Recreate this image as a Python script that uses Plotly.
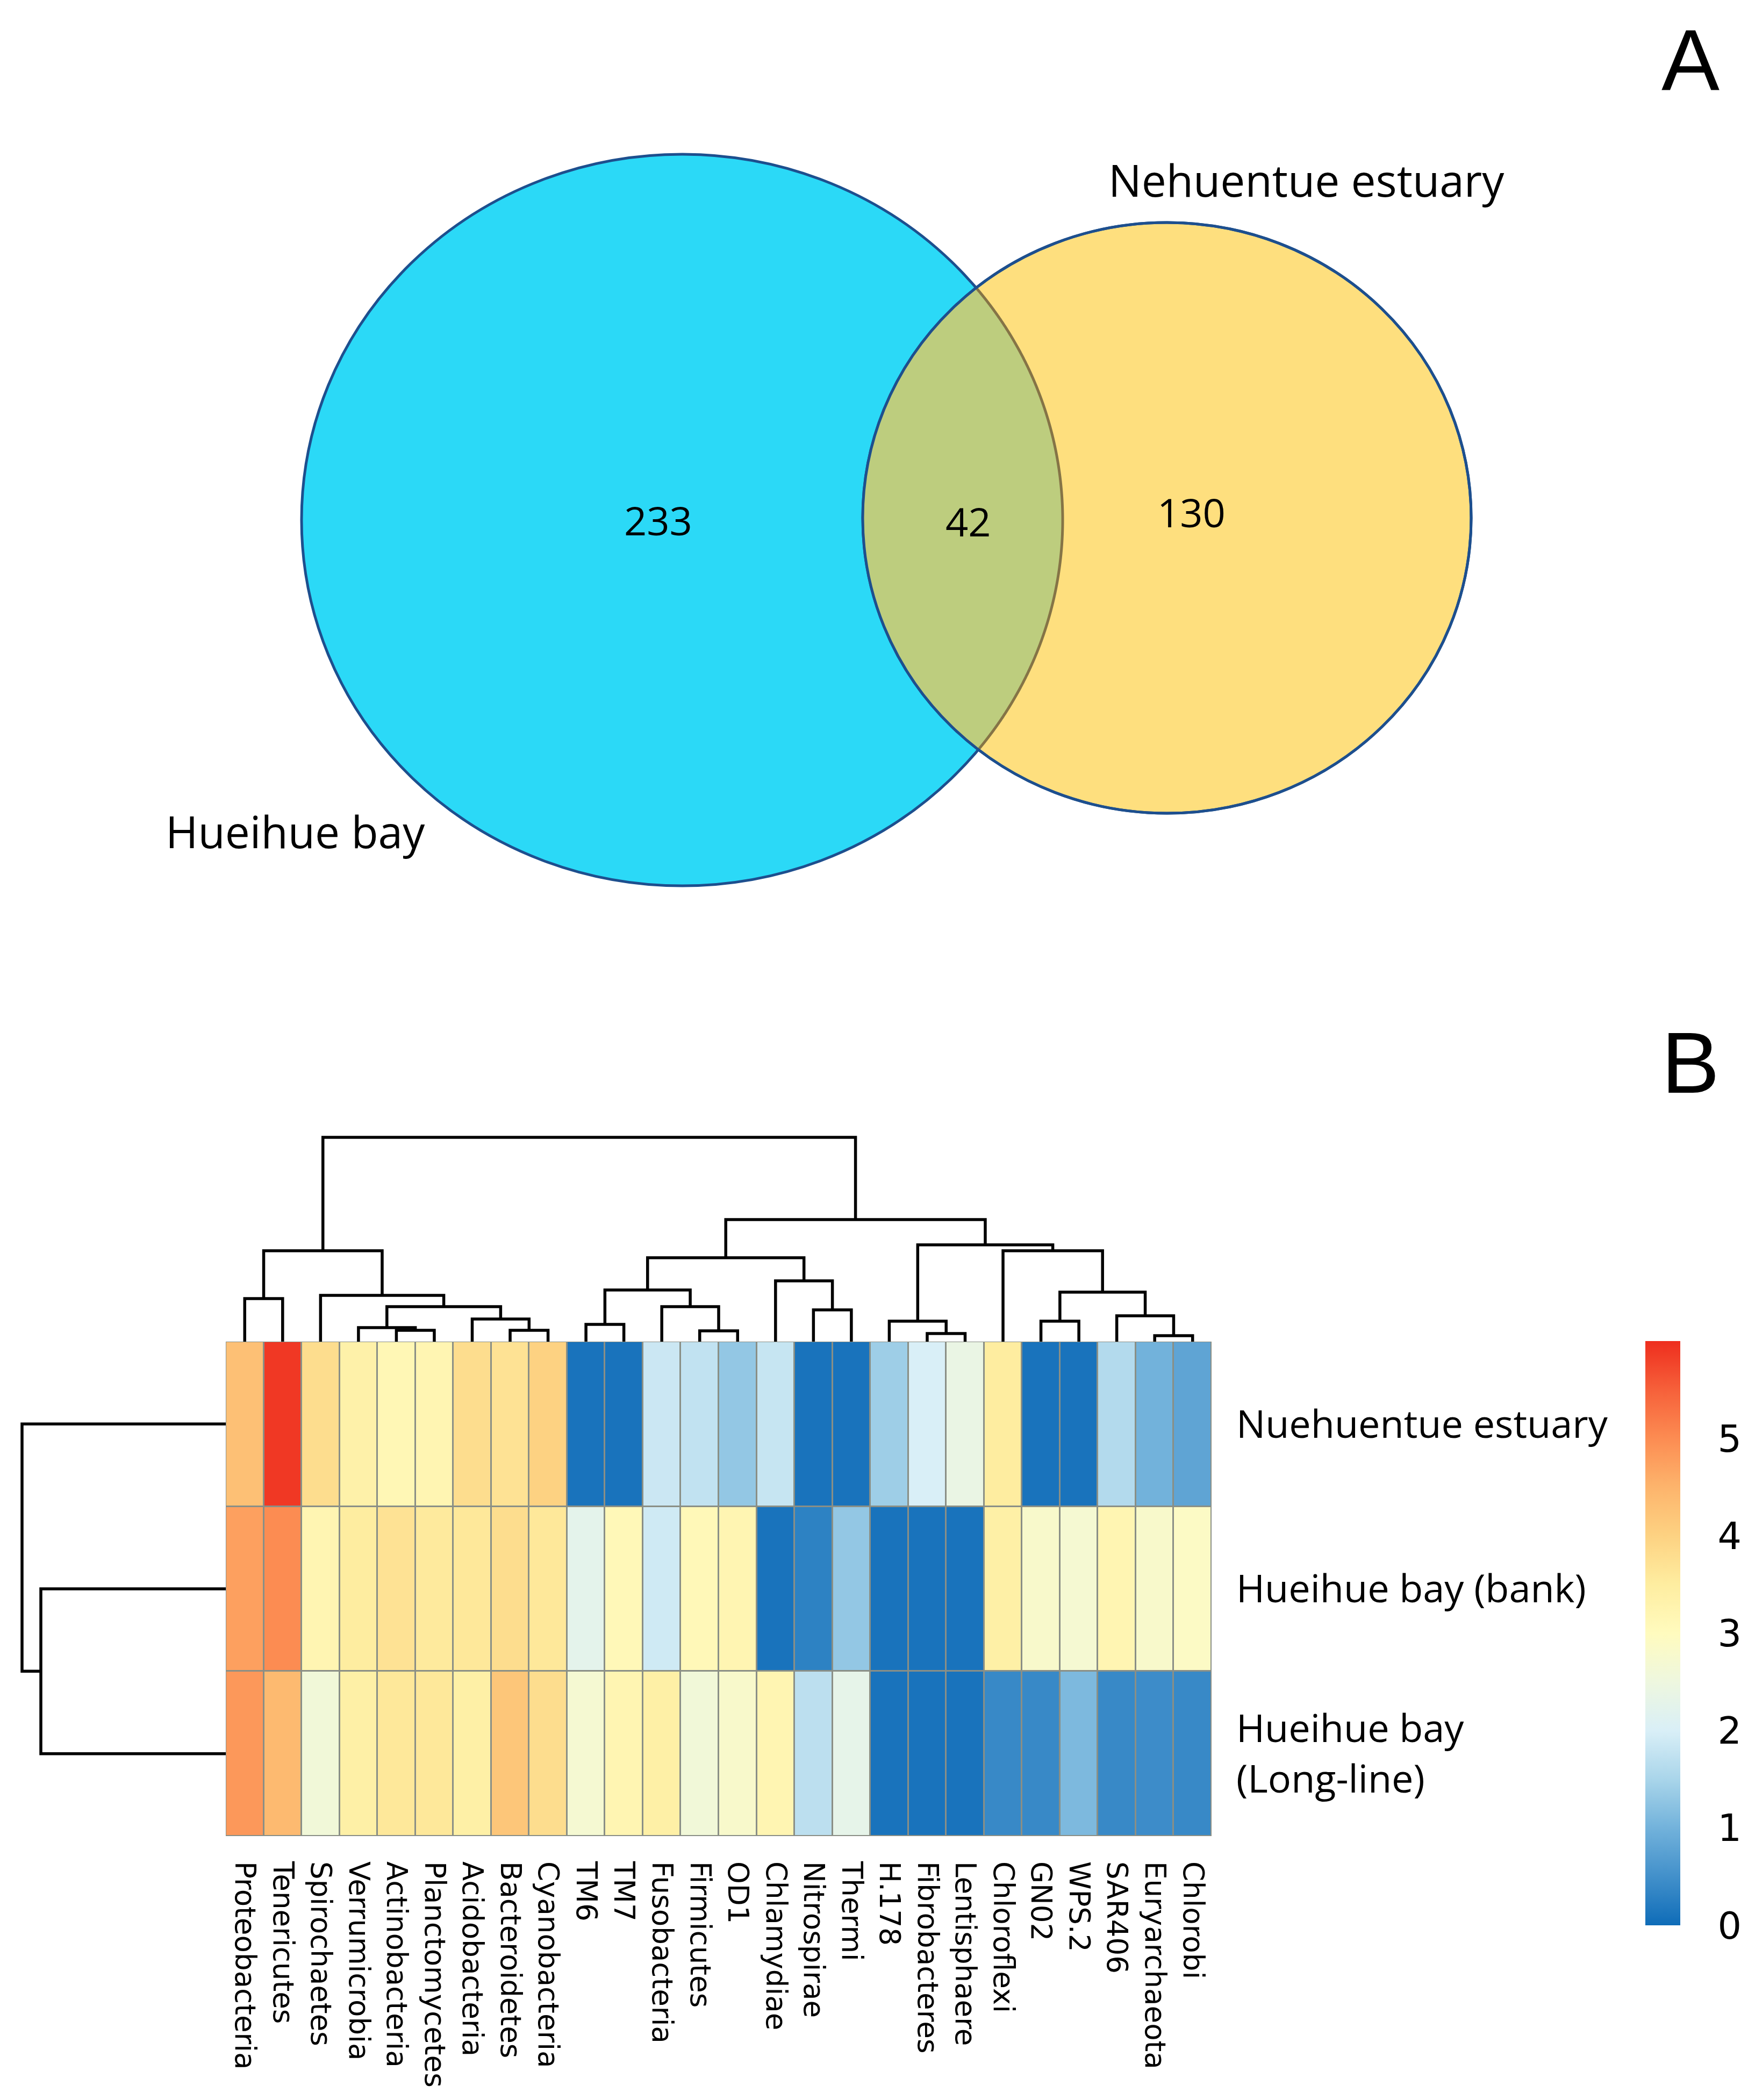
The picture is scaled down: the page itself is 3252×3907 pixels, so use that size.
import numpy as np
import plotly.graph_objects as go

W, H = 3252, 3907

# ---------------- Panel A: Venn data ----------------
venn_left_label = "Hueihue bay"
venn_right_label = "Nehuentue estuary"
venn_only_left = 233
venn_shared = 42
venn_only_right = 130

# ---------------- Panel B: heatmap data ----------------
phyla = ["Proteobacteria", "Tenericutes", "Spirochaetes", "Verrumicrobia", "Actinobacteria",
         "Planctomycetes", "Acidobacteria", "Bacteroidetes", "Cyanobacteria", "TM6", "TM7",
         "Fusobacteria", "Firmicutes", "OD1", "Chlamydiae", "Nitrospirae", "Thermi", "H.178",
         "Fibrobacteres", "Lentisphaere", "Chloroflexi", "GN02", "WPS.2", "SAR406",
         "Euryarchaeota", "Chlorobi"]
samples = ["Nuehuentue estuary", "Hueihue bay (bank)", "Hueihue bay<br>(Long-line)"]

abund_nuehuentue = [4.3, 5.9, 3.8, 3.35, 3.15, 3.2, 3.8, 3.7, 4.0, 0.1, 0.1, 1.85, 1.75, 1.3,
                    1.8, 0.1, 0.1, 1.4, 2.0, 2.4, 3.5, 0.1, 0.1, 1.6, 1.0, 0.8]
abund_bank = [4.75, 5.0, 3.2, 3.5, 3.7, 3.55, 3.6, 3.8, 3.6, 2.25, 3.1, 1.9, 3.1, 3.2,
              0.1, 0.3, 1.3, 0.1, 0.1, 0.1, 3.4, 2.8, 2.7, 3.2, 2.8, 2.9]
abund_longline = [4.85, 4.4, 2.6, 3.4, 3.6, 3.6, 3.4, 4.2, 3.8, 2.7, 3.2, 3.4, 2.6, 2.8,
                  3.2, 1.7, 2.3, 0.1, 0.1, 0.1, 0.4, 0.4, 1.1, 0.4, 0.45, 0.4]

# column dendrogram linkage: (child a, child b, height); leaves 0..25, new nodes 26..
col_linkage = [
    (24, 25, 11), (18, 19, 15), (12, 13, 20), (4, 5, 21), (7, 8, 21),
    (3, 29, 26), (9, 10, 32), (17, 27, 38), (21, 22, 38), (6, 30, 42),
    (23, 26, 48), (15, 16, 59), (31, 35, 65), (11, 28, 65), (0, 1, 80),
    (2, 38, 86), (34, 36, 92), (32, 39, 96), (14, 37, 113), (40, 41, 169),
    (20, 42, 169), (43, 44, 156), (33, 46, 180), (47, 48, 227), (45, 49, 380),
]
# row dendrogram linkage
row_linkage = [(1, 2, 344), (0, 3, 379)]

cbar_ticks = [0, 1, 2, 3, 4, 5]
z_min, z_max = 0.0, 6.0

colorscale = [
    [0.0 / 6, "#0E6CB8"], [0.4 / 6, "#3889C7"], [1.0 / 6, "#72B2DB"], [1.5 / 6, "#A9D5EA"],
    [2.0 / 6, "#D9EFF7"], [2.5 / 6, "#EEF7DF"], [3.0 / 6, "#FFFBBE"], [3.5 / 6, "#FEEDA0"],
    [4.0 / 6, "#FDD282"], [4.5 / 6, "#FDB46C"], [5.0 / 6, "#FC8C52"], [5.5 / 6, "#F6603A"],
    [6.0 / 6, "#EE2E1E"],
]


def px(xp):
    return xp / W


def py(yp):
    return 1 - yp / H


def dendro_segments(n_leaves, linkage):
    pos = {i: float(i) for i in range(n_leaves)}
    hgt = {i: 0.0 for i in range(n_leaves)}
    xs, ys = [], []
    for k, (a, b, h) in enumerate(linkage):
        node = n_leaves + k
        xs += [pos[a], pos[a], pos[b], pos[b], None]
        ys += [hgt[a], h, h, hgt[b], None]
        pos[node] = (pos[a] + pos[b]) / 2
        hgt[node] = h
    return xs, ys


fig = go.Figure()

# heatmap
n_cols = len(phyla)
fig.add_trace(go.Heatmap(
    z=[abund_nuehuentue, abund_bank, abund_longline],
    x=list(range(n_cols)), y=list(range(len(samples))),
    colorscale=colorscale, zmin=z_min, zmax=z_max,
    xgap=3, ygap=3, xaxis="x", yaxis="y",
    colorbar=dict(
        thickness=65, thicknessmode="pixels", len=1087, lenmode="pixels",
        x=px(3053), xanchor="left", xpad=0, y=py(2487), yanchor="top", ypad=0,
        outlinewidth=0, tickvals=cbar_ticks, ticks="outside", ticklen=56,
        tickcolor="rgba(0,0,0,0)",
        tickfont=dict(family="DejaVu Sans", size=70, color="black"),
    ),
))

# column dendrogram
cx, cy = dendro_segments(n_cols, col_linkage)
fig.add_trace(go.Scatter(x=cx, y=cy, mode="lines", xaxis="x2", yaxis="y2",
                         line=dict(color="black", width=5.5), hoverinfo="skip"))
# row dendrogram
rx, ry = dendro_segments(len(samples), row_linkage)
fig.add_trace(go.Scatter(x=ry, y=rx, mode="lines", xaxis="x3", yaxis="y3",
                         line=dict(color="black", width=5.5), hoverinfo="skip"))

hm_x0, hm_x1, hm_y0, hm_y1 = 412, 2246, 2488, 3408

shapes = []
# grey cell borders behind heatmap
shapes.append(dict(type="rect", xref="x", yref="y", x0=-0.5, x1=n_cols - 0.5,
                   y0=-0.5, y1=len(samples) - 0.5, fillcolor="#8A8F86",
                   line=dict(width=0), layer="below"))

# ---------------- Venn geometry ----------------
e1 = dict(x0=553, x1=1969, y0=279, y1=1640)
e2 = dict(x0=1597, x1=2729, y0=406, y1=1505)
c_blue = "#2BD9F7"
c_yel = "#FEDF7E"
c_lens = "#BDCD7E"
c_edge = "#1D4F8E"
c_arc = "#857446"


def ell_params(e):
    return ((e["x0"] + e["x1"]) / 2, (e["y0"] + e["y1"]) / 2,
            (e["x1"] - e["x0"]) / 2, (e["y1"] - e["y0"]) / 2)


def ell_shape(e, fill, line_color):
    return dict(type="circle", xref="paper", yref="paper",
                x0=px(e["x0"]), x1=px(e["x1"]), y0=py(e["y1"]), y1=py(e["y0"]),
                fillcolor=fill, line=dict(color=line_color, width=5), layer="above")


cx1, cy1, ax1, ay1 = ell_params(e1)
cx2, cy2, ax2, ay2 = ell_params(e2)
t2 = np.linspace(0, 2 * np.pi, 3000)
x2p = cx2 + ax2 * np.cos(t2)
y2p = cy2 + ay2 * np.sin(t2)
in1 = ((x2p - cx1) / ax1) ** 2 + ((y2p - cy1) / ay1) ** 2 <= 1
t1 = np.linspace(-np.pi, np.pi, 3000)
x1p = cx1 + ax1 * np.cos(t1)
y1p = cy1 + ay1 * np.sin(t1)
in2 = ((x1p - cx2) / ax2) ** 2 + ((y1p - cy2) / ay2) ** 2 <= 1

arcA = list(zip(x2p[in1], y2p[in1]))
arcB = list(zip(x1p[in2], y1p[in2]))


def to_path(pts, close):
    s = "M " + " L ".join(f"{px(a):.6f},{py(b):.6f}" for a, b in pts)
    return s + (" Z" if close else "")


shapes.append(ell_shape(e1, c_blue, c_edge))
shapes.append(ell_shape(e2, c_yel, c_edge))
shapes.append(dict(type="path", xref="paper", yref="paper", path=to_path(arcA + arcB, True),
                   fillcolor=c_lens, line=dict(width=0), layer="above"))
shapes.append(dict(type="path", xref="paper", yref="paper", path=to_path(arcB, False),
                   fillcolor="rgba(0,0,0,0)", line=dict(color=c_arc, width=5), layer="above"))
shapes.append(ell_shape(e2, "rgba(0,0,0,0)", c_edge))

annotations = []


def add_text(text, x, y, size, family="Open Sans"):
    annotations.append(dict(text=text, x=px(x), y=py(y), xref="paper", yref="paper",
                            showarrow=False, xanchor="center", yanchor="middle",
                            font=dict(family=family, size=size, color="black")))


add_text(str(venn_only_left), 1216, 959, 74)
add_text(str(venn_shared), 1793, 962, 74)
add_text(str(venn_only_right), 2208, 944, 74)
add_text(venn_right_label, 2422, 326, 82)
add_text(venn_left_label, 541, 1538, 82)
add_text("A", 3137, 104, 162, "Liberation Sans")
add_text("B", 3137, 1968, 162, "Liberation Sans")

fig.update_layout(
    width=W, height=H, margin=dict(l=0, r=0, t=0, b=0),
    paper_bgcolor="white", plot_bgcolor="white", showlegend=False,
    font=dict(family="Open Sans", color="black"),
    shapes=shapes, annotations=annotations,
    xaxis=dict(domain=[px(hm_x0), px(hm_x1)], range=[-0.5, n_cols - 0.5], anchor="y",
               tickmode="array", tickvals=list(range(n_cols)), ticktext=phyla,
               tickangle=90, ticks="", ticklabelstandoff=46,
               tickfont=dict(family="DejaVu Sans", size=53, color="black"),
               showgrid=False, zeroline=False, showline=False),
    yaxis=dict(domain=[py(hm_y1), py(hm_y0)], range=[len(samples) - 0.5, -0.5], anchor="x",
               side="right", tickmode="array", tickvals=list(range(len(samples))),
               ticktext=samples, ticks="", ticklabelstandoff=45,
               tickfont=dict(family="Open Sans", size=72, color="black"),
               showgrid=False, zeroline=False, showline=False),
    xaxis2=dict(domain=[px(hm_x0), px(hm_x1)], range=[-0.5, n_cols - 0.5], anchor="y2",
                visible=False),
    yaxis2=dict(domain=[py(hm_y0), py(2088)], range=[0, 400], anchor="x2", visible=False),
    xaxis3=dict(domain=[0, px(hm_x0)], range=[hm_x0, 0], anchor="y3", visible=False),
    yaxis3=dict(domain=[py(hm_y1), py(hm_y0)], range=[len(samples) - 0.5, -0.5],
                anchor="x3", visible=False),
)

fig.write_html("out.html")
